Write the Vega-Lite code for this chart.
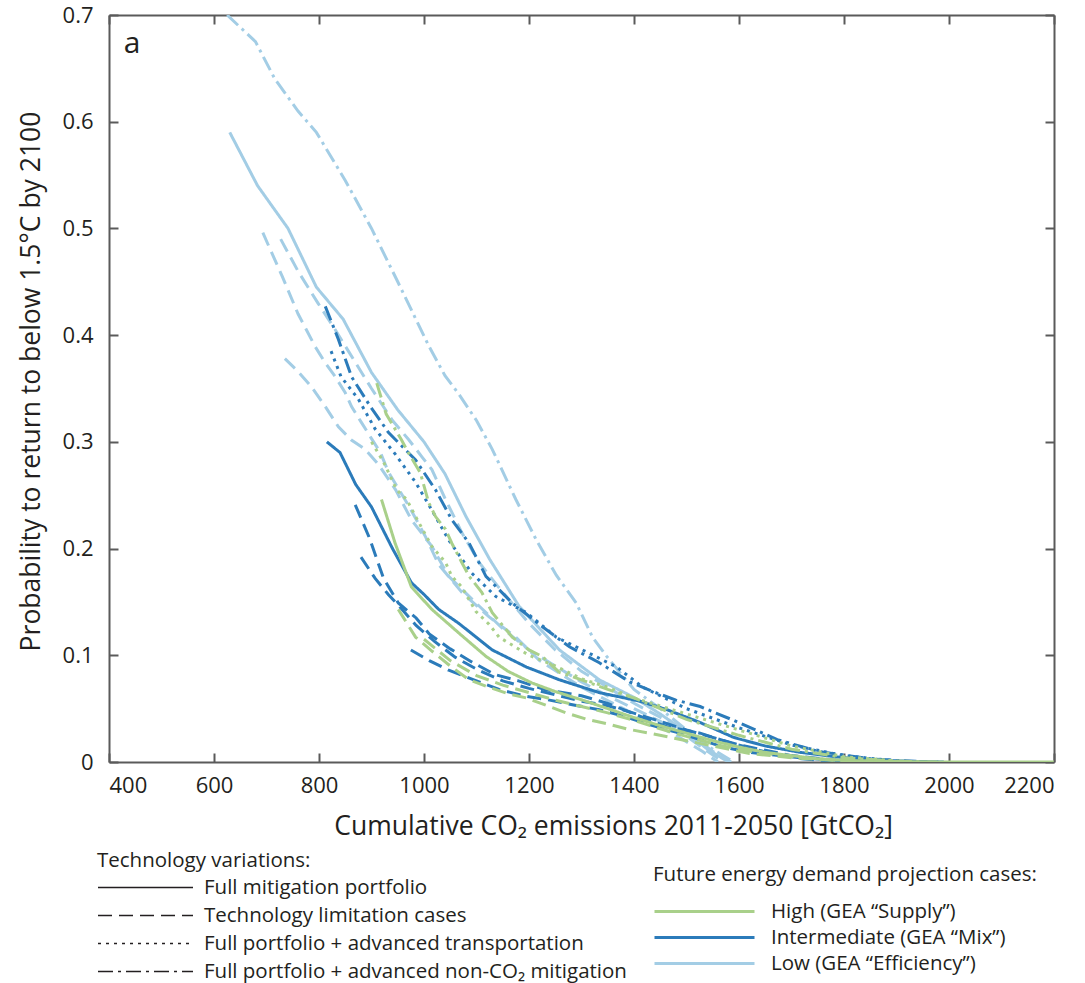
{
"$schema": "https://vega.github.io/schema/vega-lite/v6.json",
"width": 945, "height": 747,
"autosize": {"type": "none"},
"padding": {"left": 109, "top": 15, "right": 31, "bottom": 221},
"background": "white",
"config": {
  "font": "Open Sans",
  "view": {"stroke": null},
  "axis": {"grid": false, "domainColor": "#5a5a5a", "domainWidth": 2, "tickColor": "#5a5a5a", "tickWidth": 2, "tickSize": -9,
    "labelFont": "Open Sans", "labelFontSize": 22, "labelColor": "#231f20", "titleFont": "Open Sans", "titleFontSize": 26.5, "titleFontWeight": "normal", "titleColor": "#231f20"},
  "legend": {"titleFont": "Open Sans", "labelFont": "Open Sans", "titleFontWeight": "normal", "titleColor": "#231f20", "labelColor": "#231f20", "padding": 0, "labelLimit": 600, "titleLimit": 600}
},
"data": {"values": [
{"s":"LF","d":"L","t":"F","x":630,"y":0.59},{"s":"LF","d":"L","t":"F","x":683,"y":0.54},{"s":"LF","d":"L","t":"F","x":741,"y":0.5},{"s":"LF","d":"L","t":"F","x":795,"y":0.445},{"s":"LF","d":"L","t":"F","x":846,"y":0.415},{"s":"LF","d":"L","t":"F","x":900,"y":0.365},{"s":"LF","d":"L","t":"F","x":950,"y":0.33},{"s":"LF","d":"L","t":"F","x":1000,"y":0.3},{"s":"LF","d":"L","t":"F","x":1040,"y":0.27},{"s":"LF","d":"L","t":"F","x":1080,"y":0.23},{"s":"LF","d":"L","t":"F","x":1125,"y":0.19},{"s":"LF","d":"L","t":"F","x":1181,"y":0.146},{"s":"LF","d":"L","t":"F","x":1258,"y":0.105},{"s":"LF","d":"L","t":"F","x":1334,"y":0.077},{"s":"LF","d":"L","t":"F","x":1398,"y":0.061},{"s":"LF","d":"L","t":"F","x":1450,"y":0.045},{"s":"LF","d":"L","t":"F","x":1500,"y":0.028},{"s":"LF","d":"L","t":"F","x":1540,"y":0.012},{"s":"LF","d":"L","t":"F","x":1580,"y":0},
{"s":"LN","d":"L","t":"N","x":625,"y":0.7},{"s":"LN","d":"L","t":"N","x":679,"y":0.675},{"s":"LN","d":"L","t":"N","x":716,"y":0.64},{"s":"LN","d":"L","t":"N","x":760,"y":0.61},{"s":"LN","d":"L","t":"N","x":795,"y":0.59},{"s":"LN","d":"L","t":"N","x":850,"y":0.545},{"s":"LN","d":"L","t":"N","x":900,"y":0.5},{"s":"LN","d":"L","t":"N","x":950,"y":0.45},{"s":"LN","d":"L","t":"N","x":1009,"y":0.39},{"s":"LN","d":"L","t":"N","x":1040,"y":0.362},{"s":"LN","d":"L","t":"N","x":1066,"y":0.345},{"s":"LN","d":"L","t":"N","x":1100,"y":0.32},{"s":"LN","d":"L","t":"N","x":1130,"y":0.293},{"s":"LN","d":"L","t":"N","x":1175,"y":0.246},{"s":"LN","d":"L","t":"N","x":1214,"y":0.208},{"s":"LN","d":"L","t":"N","x":1252,"y":0.175},{"s":"LN","d":"L","t":"N","x":1290,"y":0.149},{"s":"LN","d":"L","t":"N","x":1321,"y":0.117},{"s":"LN","d":"L","t":"N","x":1348,"y":0.099},{"s":"LN","d":"L","t":"N","x":1373,"y":0.084},{"s":"LN","d":"L","t":"N","x":1400,"y":0.068},{"s":"LN","d":"L","t":"N","x":1450,"y":0.05},{"s":"LN","d":"L","t":"N","x":1500,"y":0.03},{"s":"LN","d":"L","t":"N","x":1550,"y":0.012},{"s":"LN","d":"L","t":"N","x":1590,"y":0},
{"s":"LT1","d":"L","t":"T","x":693,"y":0.496},{"s":"LT1","d":"L","t":"T","x":730,"y":0.455},{"s":"LT1","d":"L","t":"T","x":760,"y":0.42},{"s":"LT1","d":"L","t":"T","x":793,"y":0.389},{"s":"LT1","d":"L","t":"T","x":812,"y":0.374},{"s":"LT1","d":"L","t":"T","x":831,"y":0.361},{"s":"LT1","d":"L","t":"T","x":850,"y":0.346},{"s":"LT1","d":"L","t":"T","x":862,"y":0.333},{"s":"LT1","d":"L","t":"T","x":881,"y":0.318},{"s":"LT1","d":"L","t":"T","x":900,"y":0.303},{"s":"LT1","d":"L","t":"T","x":917,"y":0.29},{"s":"LT1","d":"L","t":"T","x":932,"y":0.272},{"s":"LT1","d":"L","t":"T","x":971,"y":0.24},{"s":"LT1","d":"L","t":"T","x":1003,"y":0.211},{"s":"LT1","d":"L","t":"T","x":1028,"y":0.185},{"s":"LT1","d":"L","t":"T","x":1072,"y":0.159},{"s":"LT1","d":"L","t":"T","x":1124,"y":0.136},{"s":"LT1","d":"L","t":"T","x":1175,"y":0.117},{"s":"LT1","d":"L","t":"T","x":1220,"y":0.095},{"s":"LT1","d":"L","t":"T","x":1300,"y":0.07},{"s":"LT1","d":"L","t":"T","x":1400,"y":0.045},{"s":"LT1","d":"L","t":"T","x":1480,"y":0.025},{"s":"LT1","d":"L","t":"T","x":1530,"y":0.01},{"s":"LT1","d":"L","t":"T","x":1560,"y":0},
{"s":"LT2","d":"L","t":"T","x":727,"y":0.49},{"s":"LT2","d":"L","t":"T","x":760,"y":0.46},{"s":"LT2","d":"L","t":"T","x":798,"y":0.43},{"s":"LT2","d":"L","t":"T","x":831,"y":0.405},{"s":"LT2","d":"L","t":"T","x":856,"y":0.385},{"s":"LT2","d":"L","t":"T","x":900,"y":0.35},{"s":"LT2","d":"L","t":"T","x":940,"y":0.32},{"s":"LT2","d":"L","t":"T","x":971,"y":0.302},{"s":"LT2","d":"L","t":"T","x":996,"y":0.286},{"s":"LT2","d":"L","t":"T","x":1015,"y":0.274},{"s":"LT2","d":"L","t":"T","x":1041,"y":0.246},{"s":"LT2","d":"L","t":"T","x":1072,"y":0.215},{"s":"LT2","d":"L","t":"T","x":1105,"y":0.187},{"s":"LT2","d":"L","t":"T","x":1140,"y":0.165},{"s":"LT2","d":"L","t":"T","x":1200,"y":0.13},{"s":"LT2","d":"L","t":"T","x":1250,"y":0.105},{"s":"LT2","d":"L","t":"T","x":1300,"y":0.085},{"s":"LT2","d":"L","t":"T","x":1350,"y":0.07},{"s":"LT2","d":"L","t":"T","x":1400,"y":0.055},{"s":"LT2","d":"L","t":"T","x":1450,"y":0.042},{"s":"LT2","d":"L","t":"T","x":1500,"y":0.028},{"s":"LT2","d":"L","t":"T","x":1550,"y":0.01},{"s":"LT2","d":"L","t":"T","x":1585,"y":0},
{"s":"LT3","d":"L","t":"T","x":735,"y":0.378},{"s":"LT3","d":"L","t":"T","x":760,"y":0.366},{"s":"LT3","d":"L","t":"T","x":785,"y":0.352},{"s":"LT3","d":"L","t":"T","x":812,"y":0.333},{"s":"LT3","d":"L","t":"T","x":837,"y":0.314},{"s":"LT3","d":"L","t":"T","x":861,"y":0.302},{"s":"LT3","d":"L","t":"T","x":888,"y":0.293},{"s":"LT3","d":"L","t":"T","x":913,"y":0.279},{"s":"LT3","d":"L","t":"T","x":946,"y":0.255},{"s":"LT3","d":"L","t":"T","x":976,"y":0.227},{"s":"LT3","d":"L","t":"T","x":1015,"y":0.202},{"s":"LT3","d":"L","t":"T","x":1047,"y":0.174},{"s":"LT3","d":"L","t":"T","x":1099,"y":0.149},{"s":"LT3","d":"L","t":"T","x":1150,"y":0.125},{"s":"LT3","d":"L","t":"T","x":1200,"y":0.105},{"s":"LT3","d":"L","t":"T","x":1250,"y":0.09},{"s":"LT3","d":"L","t":"T","x":1300,"y":0.075},{"s":"LT3","d":"L","t":"T","x":1350,"y":0.062},{"s":"LT3","d":"L","t":"T","x":1400,"y":0.05},{"s":"LT3","d":"L","t":"T","x":1450,"y":0.038},{"s":"LT3","d":"L","t":"T","x":1500,"y":0.024},{"s":"LT3","d":"L","t":"T","x":1540,"y":0.01},{"s":"LT3","d":"L","t":"T","x":1570,"y":0},
{"s":"IF","d":"I","t":"F","x":815,"y":0.3},{"s":"IF","d":"I","t":"F","x":840,"y":0.29},{"s":"IF","d":"I","t":"F","x":870,"y":0.26},{"s":"IF","d":"I","t":"F","x":900,"y":0.239},{"s":"IF","d":"I","t":"F","x":940,"y":0.2},{"s":"IF","d":"I","t":"F","x":976,"y":0.168},{"s":"IF","d":"I","t":"F","x":1000,"y":0.157},{"s":"IF","d":"I","t":"F","x":1028,"y":0.143},{"s":"IF","d":"I","t":"F","x":1066,"y":0.13},{"s":"IF","d":"I","t":"F","x":1130,"y":0.105},{"s":"IF","d":"I","t":"F","x":1195,"y":0.089},{"s":"IF","d":"I","t":"F","x":1258,"y":0.077},{"s":"IF","d":"I","t":"F","x":1334,"y":0.065},{"s":"IF","d":"I","t":"F","x":1411,"y":0.057},{"s":"IF","d":"I","t":"F","x":1463,"y":0.049},{"s":"IF","d":"I","t":"F","x":1526,"y":0.037},{"s":"IF","d":"I","t":"F","x":1590,"y":0.023},{"s":"IF","d":"I","t":"F","x":1650,"y":0.015},{"s":"IF","d":"I","t":"F","x":1717,"y":0.009},{"s":"IF","d":"I","t":"F","x":1800,"y":0.004},{"s":"IF","d":"I","t":"F","x":1900,"y":0.001},{"s":"IF","d":"I","t":"F","x":1990,"y":0},
{"s":"IN","d":"I","t":"N","x":812,"y":0.427},{"s":"IN","d":"I","t":"N","x":837,"y":0.396},{"s":"IN","d":"I","t":"N","x":862,"y":0.361},{"s":"IN","d":"I","t":"N","x":898,"y":0.333},{"s":"IN","d":"I","t":"N","x":932,"y":0.309},{"s":"IN","d":"I","t":"N","x":984,"y":0.283},{"s":"IN","d":"I","t":"N","x":1022,"y":0.255},{"s":"IN","d":"I","t":"N","x":1053,"y":0.227},{"s":"IN","d":"I","t":"N","x":1086,"y":0.205},{"s":"IN","d":"I","t":"N","x":1118,"y":0.174},{"s":"IN","d":"I","t":"N","x":1168,"y":0.149},{"s":"IN","d":"I","t":"N","x":1225,"y":0.127},{"s":"IN","d":"I","t":"N","x":1277,"y":0.108},{"s":"IN","d":"I","t":"N","x":1334,"y":0.093},{"s":"IN","d":"I","t":"N","x":1392,"y":0.075},{"s":"IN","d":"I","t":"N","x":1436,"y":0.066},{"s":"IN","d":"I","t":"N","x":1480,"y":0.058},{"s":"IN","d":"I","t":"N","x":1526,"y":0.052},{"s":"IN","d":"I","t":"N","x":1590,"y":0.039},{"s":"IN","d":"I","t":"N","x":1673,"y":0.021},{"s":"IN","d":"I","t":"N","x":1750,"y":0.01},{"s":"IN","d":"I","t":"N","x":1850,"y":0.003},{"s":"IN","d":"I","t":"N","x":1950,"y":0},
{"s":"IA","d":"I","t":"A","x":823,"y":0.385},{"s":"IA","d":"I","t":"A","x":842,"y":0.361},{"s":"IA","d":"I","t":"A","x":875,"y":0.34},{"s":"IA","d":"I","t":"A","x":907,"y":0.312},{"s":"IA","d":"I","t":"A","x":946,"y":0.288},{"s":"IA","d":"I","t":"A","x":984,"y":0.262},{"s":"IA","d":"I","t":"A","x":1015,"y":0.236},{"s":"IA","d":"I","t":"A","x":1047,"y":0.208},{"s":"IA","d":"I","t":"A","x":1091,"y":0.177},{"s":"IA","d":"I","t":"A","x":1137,"y":0.155},{"s":"IA","d":"I","t":"A","x":1195,"y":0.14},{"s":"IA","d":"I","t":"A","x":1252,"y":0.117},{"s":"IA","d":"I","t":"A","x":1302,"y":0.105},{"s":"IA","d":"I","t":"A","x":1367,"y":0.089},{"s":"IA","d":"I","t":"A","x":1417,"y":0.07},{"s":"IA","d":"I","t":"A","x":1500,"y":0.05},{"s":"IA","d":"I","t":"A","x":1600,"y":0.032},{"s":"IA","d":"I","t":"A","x":1700,"y":0.016},{"s":"IA","d":"I","t":"A","x":1800,"y":0.006},{"s":"IA","d":"I","t":"A","x":1900,"y":0.001},
{"s":"IT1","d":"I","t":"T","x":869,"y":0.241},{"s":"IT1","d":"I","t":"T","x":896,"y":0.21},{"s":"IT1","d":"I","t":"T","x":923,"y":0.172},{"s":"IT1","d":"I","t":"T","x":951,"y":0.149},{"s":"IT1","d":"I","t":"T","x":985,"y":0.135},{"s":"IT1","d":"I","t":"T","x":1010,"y":0.12},{"s":"IT1","d":"I","t":"T","x":1050,"y":0.106},{"s":"IT1","d":"I","t":"T","x":1090,"y":0.094},{"s":"IT1","d":"I","t":"T","x":1135,"y":0.082},{"s":"IT1","d":"I","t":"T","x":1180,"y":0.076},{"s":"IT1","d":"I","t":"T","x":1230,"y":0.068},{"s":"IT1","d":"I","t":"T","x":1300,"y":0.062},{"s":"IT1","d":"I","t":"T","x":1350,"y":0.055},{"s":"IT1","d":"I","t":"T","x":1400,"y":0.045},{"s":"IT1","d":"I","t":"T","x":1463,"y":0.033},{"s":"IT1","d":"I","t":"T","x":1526,"y":0.027},{"s":"IT1","d":"I","t":"T","x":1583,"y":0.018},{"s":"IT1","d":"I","t":"T","x":1654,"y":0.009},{"s":"IT1","d":"I","t":"T","x":1720,"y":0.003},{"s":"IT1","d":"I","t":"T","x":1800,"y":0},
{"s":"IT2","d":"I","t":"T","x":880,"y":0.192},{"s":"IT2","d":"I","t":"T","x":907,"y":0.172},{"s":"IT2","d":"I","t":"T","x":932,"y":0.157},{"s":"IT2","d":"I","t":"T","x":960,"y":0.142},{"s":"IT2","d":"I","t":"T","x":985,"y":0.128},{"s":"IT2","d":"I","t":"T","x":1020,"y":0.113},{"s":"IT2","d":"I","t":"T","x":1060,"y":0.098},{"s":"IT2","d":"I","t":"T","x":1100,"y":0.087},{"s":"IT2","d":"I","t":"T","x":1150,"y":0.076},{"s":"IT2","d":"I","t":"T","x":1200,"y":0.069},{"s":"IT2","d":"I","t":"T","x":1250,"y":0.063},{"s":"IT2","d":"I","t":"T","x":1300,"y":0.057},{"s":"IT2","d":"I","t":"T","x":1348,"y":0.053},{"s":"IT2","d":"I","t":"T","x":1392,"y":0.047},{"s":"IT2","d":"I","t":"T","x":1450,"y":0.038},{"s":"IT2","d":"I","t":"T","x":1500,"y":0.03},{"s":"IT2","d":"I","t":"T","x":1600,"y":0.016},{"s":"IT2","d":"I","t":"T","x":1700,"y":0.006},{"s":"IT2","d":"I","t":"T","x":1800,"y":0.001},
{"s":"IT3","d":"I","t":"T","x":975,"y":0.105},{"s":"IT3","d":"I","t":"T","x":1010,"y":0.095},{"s":"IT3","d":"I","t":"T","x":1047,"y":0.086},{"s":"IT3","d":"I","t":"T","x":1100,"y":0.076},{"s":"IT3","d":"I","t":"T","x":1143,"y":0.068},{"s":"IT3","d":"I","t":"T","x":1190,"y":0.062},{"s":"IT3","d":"I","t":"T","x":1239,"y":0.058},{"s":"IT3","d":"I","t":"T","x":1290,"y":0.053},{"s":"IT3","d":"I","t":"T","x":1334,"y":0.049},{"s":"IT3","d":"I","t":"T","x":1380,"y":0.043},{"s":"IT3","d":"I","t":"T","x":1430,"y":0.035},{"s":"IT3","d":"I","t":"T","x":1480,"y":0.028},{"s":"IT3","d":"I","t":"T","x":1526,"y":0.021},{"s":"IT3","d":"I","t":"T","x":1570,"y":0.014},{"s":"IT3","d":"I","t":"T","x":1621,"y":0.009},{"s":"IT3","d":"I","t":"T","x":1717,"y":0.004},{"s":"IT3","d":"I","t":"T","x":1800,"y":0.001},
{"s":"HF","d":"H","t":"F","x":919,"y":0.246},{"s":"HF","d":"H","t":"F","x":945,"y":0.205},{"s":"HF","d":"H","t":"F","x":976,"y":0.164},{"s":"HF","d":"H","t":"F","x":1015,"y":0.143},{"s":"HF","d":"H","t":"F","x":1066,"y":0.121},{"s":"HF","d":"H","t":"F","x":1118,"y":0.099},{"s":"HF","d":"H","t":"F","x":1160,"y":0.085},{"s":"HF","d":"H","t":"F","x":1206,"y":0.074},{"s":"HF","d":"H","t":"F","x":1250,"y":0.066},{"s":"HF","d":"H","t":"F","x":1302,"y":0.058},{"s":"HF","d":"H","t":"F","x":1350,"y":0.05},{"s":"HF","d":"H","t":"F","x":1398,"y":0.042},{"s":"HF","d":"H","t":"F","x":1450,"y":0.034},{"s":"HF","d":"H","t":"F","x":1500,"y":0.027},{"s":"HF","d":"H","t":"F","x":1550,"y":0.02},{"s":"HF","d":"H","t":"F","x":1600,"y":0.014},{"s":"HF","d":"H","t":"F","x":1650,"y":0.009},{"s":"HF","d":"H","t":"F","x":1700,"y":0.006},{"s":"HF","d":"H","t":"F","x":1750,"y":0.003},{"s":"HF","d":"H","t":"F","x":1800,"y":0.0015},{"s":"HF","d":"H","t":"F","x":1900,"y":0.0005},{"s":"HF","d":"H","t":"F","x":2000,"y":0},{"s":"HF","d":"H","t":"F","x":2200,"y":0},
{"s":"HT1","d":"H","t":"T","x":951,"y":0.143},{"s":"HT1","d":"H","t":"T","x":984,"y":0.117},{"s":"HT1","d":"H","t":"T","x":1015,"y":0.104},{"s":"HT1","d":"H","t":"T","x":1050,"y":0.09},{"s":"HT1","d":"H","t":"T","x":1086,"y":0.077},{"s":"HT1","d":"H","t":"T","x":1124,"y":0.07},{"s":"HT1","d":"H","t":"T","x":1160,"y":0.064},{"s":"HT1","d":"H","t":"T","x":1195,"y":0.06},{"s":"HT1","d":"H","t":"T","x":1233,"y":0.053},{"s":"HT1","d":"H","t":"T","x":1271,"y":0.046},{"s":"HT1","d":"H","t":"T","x":1310,"y":0.04},{"s":"HT1","d":"H","t":"T","x":1348,"y":0.036},{"s":"HT1","d":"H","t":"T","x":1386,"y":0.031},{"s":"HT1","d":"H","t":"T","x":1430,"y":0.027},{"s":"HT1","d":"H","t":"T","x":1500,"y":0.02},{"s":"HT1","d":"H","t":"T","x":1560,"y":0.014},{"s":"HT1","d":"H","t":"T","x":1620,"y":0.008},{"s":"HT1","d":"H","t":"T","x":1700,"y":0.004},{"s":"HT1","d":"H","t":"T","x":1800,"y":0.001},{"s":"HT1","d":"H","t":"T","x":1850,"y":0},
{"s":"HT2","d":"H","t":"T","x":1000,"y":0.115},{"s":"HT2","d":"H","t":"T","x":1050,"y":0.095},{"s":"HT2","d":"H","t":"T","x":1100,"y":0.081},{"s":"HT2","d":"H","t":"T","x":1150,"y":0.072},{"s":"HT2","d":"H","t":"T","x":1200,"y":0.065},{"s":"HT2","d":"H","t":"T","x":1250,"y":0.058},{"s":"HT2","d":"H","t":"T","x":1300,"y":0.052},{"s":"HT2","d":"H","t":"T","x":1350,"y":0.046},{"s":"HT2","d":"H","t":"T","x":1400,"y":0.039},{"s":"HT2","d":"H","t":"T","x":1450,"y":0.031},{"s":"HT2","d":"H","t":"T","x":1500,"y":0.024},{"s":"HT2","d":"H","t":"T","x":1560,"y":0.016},{"s":"HT2","d":"H","t":"T","x":1620,"y":0.01},{"s":"HT2","d":"H","t":"T","x":1700,"y":0.005},{"s":"HT2","d":"H","t":"T","x":1800,"y":0.001},{"s":"HT2","d":"H","t":"T","x":1880,"y":0},
{"s":"HN","d":"H","t":"N","x":910,"y":0.355},{"s":"HN","d":"H","t":"N","x":928,"y":0.326},{"s":"HN","d":"H","t":"N","x":957,"y":0.302},{"s":"HN","d":"H","t":"N","x":970,"y":0.29},{"s":"HN","d":"H","t":"N","x":993,"y":0.271},{"s":"HN","d":"H","t":"N","x":1009,"y":0.243},{"s":"HN","d":"H","t":"N","x":1022,"y":0.23},{"s":"HN","d":"H","t":"N","x":1041,"y":0.218},{"s":"HN","d":"H","t":"N","x":1053,"y":0.205},{"s":"HN","d":"H","t":"N","x":1072,"y":0.187},{"s":"HN","d":"H","t":"N","x":1086,"y":0.174},{"s":"HN","d":"H","t":"N","x":1110,"y":0.159},{"s":"HN","d":"H","t":"N","x":1130,"y":0.14},{"s":"HN","d":"H","t":"N","x":1168,"y":0.117},{"s":"HN","d":"H","t":"N","x":1200,"y":0.105},{"s":"HN","d":"H","t":"N","x":1225,"y":0.099},{"s":"HN","d":"H","t":"N","x":1258,"y":0.084},{"s":"HN","d":"H","t":"N","x":1283,"y":0.08},{"s":"HN","d":"H","t":"N","x":1350,"y":0.068},{"s":"HN","d":"H","t":"N","x":1400,"y":0.06},{"s":"HN","d":"H","t":"N","x":1450,"y":0.05},{"s":"HN","d":"H","t":"N","x":1500,"y":0.04},{"s":"HN","d":"H","t":"N","x":1600,"y":0.025},{"s":"HN","d":"H","t":"N","x":1700,"y":0.012},{"s":"HN","d":"H","t":"N","x":1800,"y":0.004},{"s":"HN","d":"H","t":"N","x":1900,"y":0.001},{"s":"HN","d":"H","t":"N","x":1950,"y":0},
{"s":"HA","d":"H","t":"A","x":900,"y":0.3},{"s":"HA","d":"H","t":"A","x":923,"y":0.281},{"s":"HA","d":"H","t":"A","x":948,"y":0.255},{"s":"HA","d":"H","t":"A","x":967,"y":0.246},{"s":"HA","d":"H","t":"A","x":984,"y":0.23},{"s":"HA","d":"H","t":"A","x":1015,"y":0.202},{"s":"HA","d":"H","t":"A","x":1041,"y":0.187},{"s":"HA","d":"H","t":"A","x":1053,"y":0.174},{"s":"HA","d":"H","t":"A","x":1072,"y":0.164},{"s":"HA","d":"H","t":"A","x":1099,"y":0.141},{"s":"HA","d":"H","t":"A","x":1124,"y":0.129},{"s":"HA","d":"H","t":"A","x":1143,"y":0.117},{"s":"HA","d":"H","t":"A","x":1200,"y":0.1},{"s":"HA","d":"H","t":"A","x":1250,"y":0.09},{"s":"HA","d":"H","t":"A","x":1300,"y":0.078},{"s":"HA","d":"H","t":"A","x":1350,"y":0.07},{"s":"HA","d":"H","t":"A","x":1400,"y":0.06},{"s":"HA","d":"H","t":"A","x":1500,"y":0.045},{"s":"HA","d":"H","t":"A","x":1600,"y":0.03},{"s":"HA","d":"H","t":"A","x":1700,"y":0.015},{"s":"HA","d":"H","t":"A","x":1800,"y":0.005},{"s":"HA","d":"H","t":"A","x":1900,"y":0.001}
]},
"layer": [
  {
    "mark": {"type": "line", "strokeWidth": 3, "strokeCap": "butt", "clip": true},
    "encoding": {
      "x": {"field": "x", "type": "quantitative", "scale": {"domain": [400, 2200], "nice": false, "zero": false},
        "axis": {"orient": "bottom", "values": [400,600,800,1000,1200,1400,1600,1800,2000,2200], "format": "d", "labelPadding": 22, "title": "Cumulative CO₂ emissions 2011-2050 [GtCO₂]", "titlePadding": 17, "titleX": 504}},
      "y": {"field": "y", "type": "quantitative", "scale": {"domain": [0, 0.7], "nice": false},
        "axis": {"orient": "left", "values": [0,0.1,0.2,0.3,0.4,0.5,0.6,0.7], "format": ".1~f", "labelPadding": 25, "title": "Probability to return to below 1.5°C by 2100", "titlePadding": 17, "titleY": 366}},
      "color": {"field": "d", "type": "nominal",
        "scale": {"domain": ["H","I","L"], "range": ["#a9d08a","#2b7bba","#a3cde5"]},
        "legend": {"orient": "none", "legendX": 544, "legendY": 850, "direction": "vertical",
          "title": "Future energy demand projection cases:", "titleFontSize": 20.5, "titlePadding": 15,
          "labelFontSize": 20.5, "symbolType": "stroke", "symbolSize": 10000, "symbolStrokeWidth": 3, "labelOffset": 15, "rowPadding": 4, "clipHeight": 22,
          "labelExpr": "datum.label == 'H' ? 'High (GEA “Supply”)' : datum.label == 'I' ? 'Intermediate (GEA “Mix”)' : 'Low (GEA “Efficiency”)'"}},
      "strokeDash": {"field": "t", "type": "nominal",
        "scale": {"domain": ["F","T","A","N"], "range": [[1,0],[14,7],[3,5],[15,5,3,5]]},
        "legend": {"orient": "none", "legendX": -12, "legendY": 836, "direction": "vertical",
          "title": "Technology variations:", "titleFontSize": 20.5, "titlePadding": 5,
          "labelFontSize": 20.5, "symbolType": "stroke", "symbolSize": 9025, "symbolStrokeWidth": 1.5, "symbolStrokeColor": "#231f20", "labelOffset": 10, "rowPadding": 6, "clipHeight": 22,
          "labelExpr": "datum.label == 'F' ? 'Full mitigation portfolio' : datum.label == 'T' ? 'Technology limitation cases' : datum.label == 'A' ? 'Full portfolio + advanced transportation' : 'Full portfolio + advanced non-CO₂ mitigation'"}},
      "detail": {"field": "s"}
    }
  },
  {
    "data": {"values": [{}]},
    "mark": {"type": "text", "text": "a", "fontSize": 30, "align": "left", "baseline": "middle", "font": "Open Sans", "color": "#231f20"},
    "encoding": {
      "x": {"datum": 428, "type": "quantitative", "scale": {"domain": [400, 2200], "nice": false, "zero": false},
        "axis": {"orient": "top", "values": [400,600,800,1000,1200,1400,1600,1800,2000,2200], "labels": false, "title": null}},
      "y": {"datum": 0.673, "type": "quantitative", "scale": {"domain": [0, 0.7], "nice": false},
        "axis": {"orient": "right", "values": [0,0.1,0.2,0.3,0.4,0.5,0.6,0.7], "labels": false, "title": null}}
    }
  }
],
"resolve": {"axis": {"x": "independent", "y": "independent"}}
}
